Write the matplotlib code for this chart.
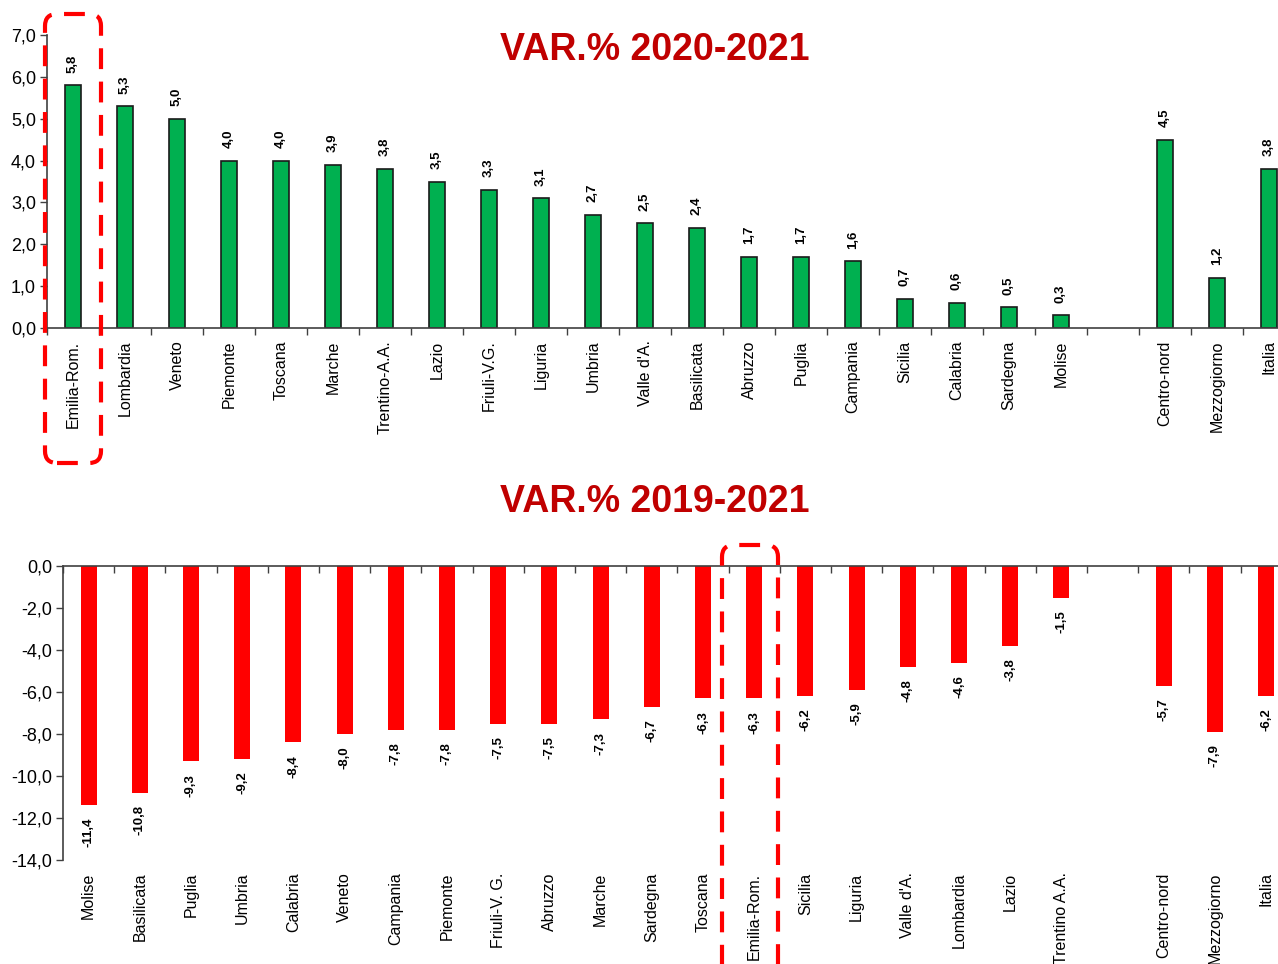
import matplotlib
matplotlib.use('Agg')
import matplotlib.pyplot as plt
import matplotlib.transforms as mtransforms
from matplotlib import font_manager
from matplotlib.patches import FancyBboxPatch
import numpy as np


top_labels = ['Emilia-Rom.', 'Lombardia', 'Veneto', 'Piemonte', 'Toscana', 'Marche',
              'Trentino-A.A.', 'Lazio', 'Friuli-V.G.', 'Liguria', 'Umbria', "Valle d'A.",
              'Basilicata', 'Abruzzo', 'Puglia', 'Campania', 'Sicilia', 'Calabria',
              'Sardegna', 'Molise', '', 'Centro-nord', 'Mezzogiorno', 'Italia']
top_values = [5.8, 5.3, 5.0, 4.0, 4.0, 3.9, 3.8, 3.5, 3.3, 3.1, 2.7, 2.5, 2.4, 1.7,
              1.7, 1.6, 0.7, 0.6, 0.5, 0.3, None, 4.5, 1.2, 3.8]

bottom_labels = ['Molise', 'Basilicata', 'Puglia', 'Umbria', 'Calabria', 'Veneto',
                 'Campania', 'Piemonte', 'Friuli-V. G.', 'Abruzzo', 'Marche', 'Sardegna',
                 'Toscana', 'Emilia-Rom.', 'Sicilia', 'Liguria', "Valle d'A.", 'Lombardia',
                 'Lazio', 'Trentino A.A.', '', 'Centro-nord', 'Mezzogiorno', 'Italia']
bottom_values = [-11.4, -10.8, -9.3, -9.2, -8.4, -8.0, -7.8, -7.8, -7.5, -7.5, -7.3, -6.7,
                 -6.3, -6.3, -6.2, -5.9, -4.8, -4.6, -3.8, -1.5, None, -5.7, -7.9, -6.2]

top_yticks = np.arange(0, 8, 1)
bottom_yticks = np.arange(-14, 1, 2)

GREEN = '#00B050'
RED = '#FF0000'
TITLE_RED = '#C00000'

# narrow font if there is one, else plain Liberation Sans set smaller
names = {f.name for f in font_manager.fontManager.ttflist}
narrow = None
for cand in ['Liberation Sans Narrow', 'Arial Narrow']:
    if cand in names:
        narrow = cand
        break
if narrow:
    plt.rcParams['font.family'] = [narrow, 'DejaVu Sans']
    CAT_SIZE, TICK_SIZE, VAL_SIZE, TITLE_SIZE = 14, 14, 10, 33
else:
    plt.rcParams['font.family'] = ['Liberation Sans', 'DejaVu Sans']
    CAT_SIZE, TICK_SIZE, VAL_SIZE, TITLE_SIZE = 11.5, 13, 9.5, 27


def fmt(v):
    return '{:.1f}'.format(v).replace('.', ',')


def draw_bars(ax, labels, values, color, edge, label_below):
    n = len(labels)
    x = np.arange(n)
    xs = [xi for xi, v in zip(x, values) if v is not None]
    vs = [v for v in values if v is not None]
    ax.bar(xs, vs, width=0.31, color=color,
           edgecolor=edge, linewidth=1.2 if edge != 'none' else 0)
    for xi, v in zip(xs, vs):
        if label_below:
            ax.annotate(fmt(v), (xi, v), xytext=(0, -9), textcoords='offset points',
                        rotation=90, ha='center', va='top', fontsize=VAL_SIZE, fontweight='bold')
        else:
            ax.annotate(fmt(v), (xi, v), xytext=(0, 9), textcoords='offset points',
                        rotation=90, ha='center', va='bottom', fontsize=VAL_SIZE, fontweight='bold')
    ax.set_xlim(-0.5, n - 0.5)
    ax.set_xticks(np.arange(n + 1) - 0.5)
    ax.set_xticklabels([])
    ax.tick_params(axis='x', direction='out', length=5, width=1, color='#404040')
    ax.tick_params(axis='y', direction='out', length=5, width=1, color='#404040',
                   labelsize=TICK_SIZE, pad=3)
    for side in ['top', 'right']:
        ax.spines[side].set_visible(False)
    for side in ['left', 'bottom']:
        ax.spines[side].set_color('#404040')
        ax.spines[side].set_linewidth(1.2)
    for xi, lab in zip(x, labels):
        ax.annotate(lab, (xi, 0), xycoords=('data', 'axes fraction'), xytext=(0, -9),
                    textcoords='offset points', rotation=90, ha='center', va='top',
                    fontsize=CAT_SIZE)


W, H = 1278, 964
fig = plt.figure(figsize=(W / 100, H / 100), dpi=100)

# top panel
ax1 = fig.add_axes([47 / W, (H - 328) / H, 1248 / W, 293 / H])
draw_bars(ax1, top_labels, top_values, GREEN, '#1a1a1a', False)
ax1.set_ylim(0, 7)
ax1.set_yticks(top_yticks)
ax1.set_yticklabels([fmt(v) for v in top_yticks])
fig.text(655 / W, 1 - 50 / H, 'VAR.% 2020-2021', ha='center', va='center',
         fontsize=TITLE_SIZE, fontweight='bold', color=TITLE_RED)

# bottom panel
ax2 = fig.add_axes([63 / W, (H - 860) / H, 24 * 51.2 / W, 294 / H])
draw_bars(ax2, bottom_labels, bottom_values, RED, 'none', True)
ax2.set_ylim(-14, 0)
ax2.set_yticks(bottom_yticks)
ax2.set_yticklabels([fmt(v) for v in bottom_yticks])
ax2.spines['bottom'].set_position(('data', 0))
fig.text(655 / W, 1 - 502 / H, 'VAR.% 2019-2021', ha='center', va='center',
         fontsize=TITLE_SIZE, fontweight='bold', color=TITLE_RED)

# dashed highlight boxes (pixel coordinates, origin bottom-left)
ident = mtransforms.IdentityTransform()
boxes = [(45, H - 463, 56, 449), (722, -20, 56, H - 545 + 20)]
for bx, by, bw, bh in boxes:
    p = FancyBboxPatch((bx, by), bw, bh, boxstyle='round,pad=0,rounding_size=12',
                       fill=False, edgecolor=RED, linewidth=3, linestyle=(0, (5, 3)),
                       transform=ident)
    fig.add_artist(p)

fig.savefig('out.png', dpi=100)
